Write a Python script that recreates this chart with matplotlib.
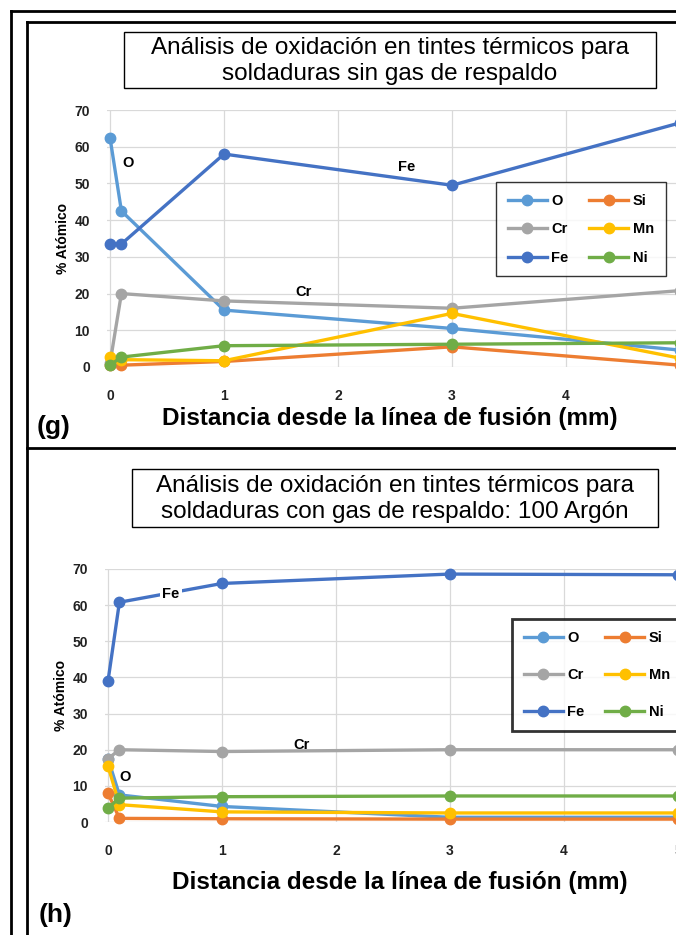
import matplotlib
matplotlib.use("Agg")
import matplotlib.pyplot as plt
from matplotlib.patches import Rectangle
from matplotlib.lines import Line2D

plt.rcParams['font.family'] = ['Liberation Sans', 'DejaVu Sans']

W, H = 676, 935

# distance from fusion line (mm)
dist = [0, 0.1, 1, 3, 5]
elements = ["O", "Si", "Cr", "Mn", "Fe", "Ni"]
colors = {"O": "#5B9BD5", "Si": "#ED7D31", "Cr": "#A5A5A5",
          "Mn": "#FFC000", "Fe": "#4472C4", "Ni": "#70AD47"}

# (g) welds without backing gas, atomic %
g_O = [62.5, 42.5, 15.5, 10.5, 4.6]
g_Si = [0.5, 0.5, 1.5, 5.5, 0.5]
g_Cr = [1.0, 20.0, 18.0, 16.0, 20.8]
g_Mn = [2.7, 2.0, 1.7, 14.6, 2.4]
g_Fe = [33.5, 33.5, 58.0, 49.5, 66.5]
g_Ni = [0.5, 2.7, 5.8, 6.2, 6.6]

# (h) welds with backing gas: 100 Argon, atomic %
h_O = [17.5, 7.5, 4.3, 1.3, 1.3]
h_Si = [8.0, 1.0, 0.9, 0.8, 0.8]
h_Cr = [17.5, 20.0, 19.5, 20.0, 20.0]
h_Mn = [15.5, 4.8, 2.8, 2.5, 2.5]
h_Fe = [39.0, 60.8, 66.0, 68.6, 68.4]
h_Ni = [3.9, 6.6, 7.0, 7.2, 7.2]

data_g = dict(zip(elements, [g_O, g_Si, g_Cr, g_Mn, g_Fe, g_Ni]))
data_h = dict(zip(elements, [h_O, h_Si, h_Cr, h_Mn, h_Fe, h_Ni]))


def fx(px):
    return px / W


def fy(py):
    return 1 - py / H


fig = plt.figure(figsize=(W / 100, H / 100), dpi=100)
fig.patch.set_facecolor("white")

# page frames and panel divider
fig.add_artist(Line2D([fx(11), fx(11)], [fy(11), 0], color="black", lw=2))
fig.add_artist(Line2D([fx(27), fx(27)], [fy(22), 0], color="black", lw=2))
fig.add_artist(Line2D([fx(11), 1], [fy(11), fy(11)], color="black", lw=2))
fig.add_artist(Line2D([fx(27), 1], [fy(22), fy(22)], color="black", lw=2))
fig.add_artist(Line2D([fx(27), 1], [fy(448), fy(448)], color="black", lw=2))


def title_box(x0, x1, y0, y1, text):
    fig.add_artist(Rectangle((fx(x0), fy(y1)), fx(x1 - x0), (y1 - y0) / H,
                             fill=False, ec="black", lw=1))
    fig.text(fx((x0 + x1) / 2), fy((y0 + y1) / 2 + 1), text, ha="center",
             va="center", fontsize=17.5, multialignment="center",
             linespacing=1.2)


def panel(x0px, y0px, y70px, data, leg_xy, leg_space, legend_lw, notes,
          fe_box=False):
    unit = 114
    xmin, xmax = -0.03, 5.3
    left = x0px + xmin * unit
    width = (xmax - xmin) * unit
    ax = fig.add_axes([fx(left), fy(y0px), fx(width), (y0px - y70px) / H])
    for el in elements:
        ax.plot(dist, data[el], "-o", color=colors[el], lw=2.4, ms=7.5,
                label=el, clip_on=False)
    ax.set_xlim(xmin, xmax)
    ax.set_ylim(0, 70)
    ax.set_xticks(range(0, 6))
    ax.set_yticks(range(0, 71, 10))
    ax.grid(True, color="#D9D9D9", lw=0.9)
    ax.set_axisbelow(True)
    for s in ax.spines.values():
        s.set_visible(False)
    ax.tick_params(length=0, labelsize=10, pad=12)
    ax.tick_params(axis="x", pad=16)
    for lab in ax.get_xticklabels() + ax.get_yticklabels():
        lab.set_fontweight("bold")
        lab.set_color("#222222")
    ax.set_ylabel("% Atómico", fontsize=10, fontweight="bold", labelpad=3)
    handles, labels = ax.get_legend_handles_labels()
    order = [0, 2, 4, 1, 3, 5]
    leg = ax.legend([handles[i] for i in order], [labels[i] for i in order],
                    ncol=2, loc="upper left", frameon=True, fancybox=False,
                    handlelength=2.7, columnspacing=1.4, handletextpad=0.3,
                    labelspacing=leg_space, borderpad=0.8, borderaxespad=0,
                    bbox_to_anchor=(fx(leg_xy[0]), fy(leg_xy[1])),
                    bbox_transform=fig.transFigure,
                    prop={"weight": "bold", "size": 10.5})
    leg.get_frame().set_edgecolor("black")
    leg.get_frame().set_linewidth(legend_lw)
    for txt, x, y in notes:
        kw = {}
        if fe_box and txt == "Fe":
            kw["bbox"] = dict(boxstyle="square,pad=0.15", fc="white", ec="none")
        ax.text(x, y, txt, fontsize=10.5, fontweight="bold", ha="center",
                va="center", zorder=5, **kw)
    return ax


ax_g = panel(110, 367, 110, data_g, (496, 182), 1.0, 1.0,
             [("O", 0.16, 55.5), ("Fe", 2.6, 54.5), ("Cr", 1.7, 20.5)])

ax_h = panel(108, 822, 569, data_h, (512, 619), 1.6, 2.0,
             [("Fe", 0.55, 63.0), ("Cr", 1.7, 21.3), ("O", 0.15, 12.5)],
             fe_box=True)

title_box(124, 656, 32, 88,
          "Análisis de oxidación en tintes térmicos para\n"
          "soldaduras sin gas de respaldo")
title_box(132, 658, 469, 527,
          "Análisis de oxidación en tintes térmicos para\n"
          "soldaduras con gas de respaldo: 100 Argón")

xlab = "Distancia desde la línea de fusión (mm)"
fig.text(fx(390), fy(418), xlab, ha="center", va="center", fontsize=17.5,
         fontweight="bold")
fig.text(fx(400), fy(883), xlab, ha="center", va="center", fontsize=17.5,
         fontweight="bold")
fig.text(fx(37), fy(427), "(g)", ha="left", va="center", fontsize=19,
         fontweight="bold")
fig.text(fx(39), fy(915), "(h)", ha="left", va="center", fontsize=19,
         fontweight="bold")

fig.savefig("out.png", dpi=100)
